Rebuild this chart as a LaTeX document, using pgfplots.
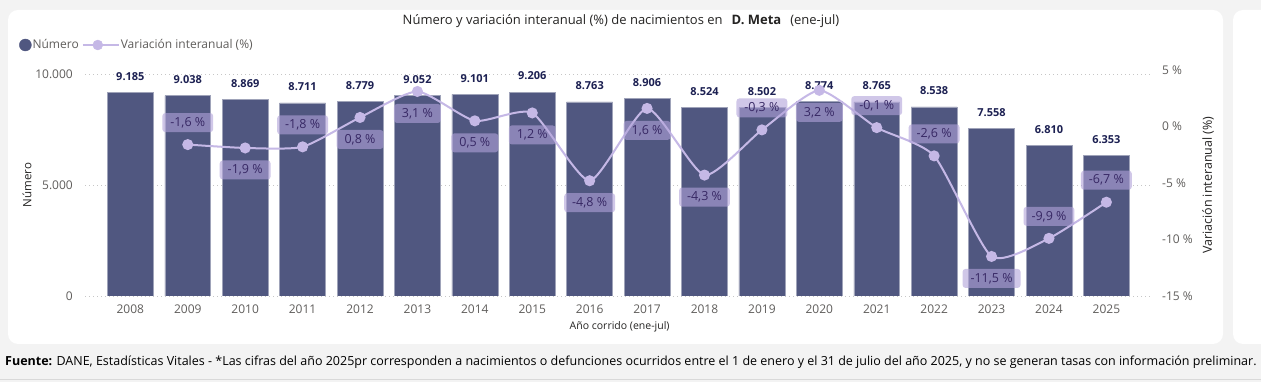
\documentclass[border=0pt]{standalone}
\usepackage{fontspec}
\setmainfont{Open Sans}
\usepackage{pgfplots}
\pgfplotsset{compat=1.18}
\definecolor{bgc}{RGB}{243,243,243}
\definecolor{barcol}{RGB}{80,87,128}
\definecolor{barlab}{RGB}{28,32,82}
\definecolor{linecol}{RGB}{197,184,230}
\definecolor{boxfill}{RGB}{178,163,218}
\definecolor{labtext}{RGB}{55,40,100}
\definecolor{tickgray}{RGB}{96,94,92}
\definecolor{titlec}{RGB}{37,36,35}
\begin{document}
\begin{tikzpicture}
\useasboundingbox (0pt,0pt) rectangle (1261pt,382pt);
\fill[bgc] (0pt,0pt) rectangle (1261pt,382pt);
\fill[white, rounded corners=10pt] (8pt,38pt) rectangle (1223pt,372pt);
\fill[white, rounded corners=10pt] (1233pt,38pt) rectangle (1290pt,372pt);
\draw[gray!30, line width=0.8pt] (0pt,3pt) -- (1261pt,3pt);

\begin{axis}[
  at={(85pt,86pt)}, anchor=south west, scale only axis,
  width=1065pt, height=226pt,
  xmin=-0.79, xmax=17.76, ymin=0, ymax=10200,
  scaled y ticks=false,
  axis line style={draw=none}, major tick length=0pt,
  xtick={0,...,17},
  xticklabels={2008,2009,2010,2011,2012,2013,2014,2015,2016,2017,2018,2019,2020,2021,2022,2023,2024,2025},
  xticklabel style={font=\fontsize{12}{14}\selectfont, text=tickgray, inner sep=0pt, anchor=center, yshift=-13pt},
  ytick={0,5000,10000}, yticklabels={0,5.000,10.000},
  yticklabel style={font=\fontsize{12}{14}\selectfont, text=tickgray, inner sep=0pt, anchor=east, xshift=-12pt},
  ymajorgrids, grid style={gray!45, line width=0.7pt, dash pattern=on 0.8pt off 3.2pt},
  ylabel={Número},
  ylabel style={font=\fontsize{11.5}{13}\selectfont, text=titlec, at={(axis description cs:-0.0545,0.491)}, anchor=center},
  xlabel={Año corrido (ene-jul)},
  xlabel style={font=\fontsize{10.5}{12}\selectfont, text=titlec, at={(axis description cs:0.502,-0.137)}, anchor=center},
  legend columns=2,
  legend style={at={(axis description cs:-0.062,1.1106)}, anchor=west, draw=none, fill=none, inner sep=0pt,
    font=\fontsize{12}{14}\selectfont, text=tickgray,
    nodes={inner sep=1pt},
    /tikz/every even column/.append style={column sep=2pt}},
  legend cell align=left,
]
\addplot[ybar, bar width=0.8, fill=barcol, draw=barcol!55!white, line width=0.5pt, forget plot,
  nodes near coords={\pgfmathprintnumber[1000 sep={.},precision=0,assume math mode=true]{\pgfplotspointmeta}},
  every node near coord/.style={font=\bfseries\fontsize{11}{13}\selectfont, text=barlab, anchor=center, yshift=16pt}]
table {
x y
0 9185
1 9038
2 8869
3 8711
4 8779
5 9052
6 9101
7 9206
8 8763
9 8906
10 8524
11 8502
12 8774
13 8765
14 8538
15 7558
16 6810
17 6353
};
\addlegendimage{legend image code/.code={\fill[barcol] (6pt,0pt) circle (6pt);}}
\addlegendentry{Número}
\addlegendimage{legend image code/.code={\draw[linecol, line width=2pt] (0pt,0pt) -- (36pt,0pt); \fill[linecol] (15pt,0pt) circle (5pt);}}
\addlegendentry{Variación interanual (\%)}
\end{axis}

\begin{axis}[
  at={(85pt,86pt)}, anchor=south west, scale only axis,
  width=1065pt, height=226pt,
  xmin=-0.79, xmax=17.76, ymin=-15, ymax=5,
  axis line style={draw=none}, major tick length=0pt,
  xtick=\empty,
  ytick={-15,-10,-5,0,5}, yticklabels={-15 \%,-10 \%,-5 \%,0 \%,5 \%},
  yticklabel pos=right,
  yticklabel style={font=\fontsize{12}{14}\selectfont, text=tickgray, inner sep=0pt, anchor=west, xshift=12pt},
  ylabel={Variación interanual (\%)},
  ylabel style={font=\fontsize{12.5}{14}\selectfont, text=titlec, at={(axis description cs:1.0545,0.49)}, anchor=center},
  every node near coord/.style={font=\fontsize{12.5}{14}\selectfont, text=labtext, fill=boxfill, fill opacity=0.6, text opacity=1,
     rounded corners=3pt, inner xsep=8pt, inner ysep=0pt, minimum height=19pt, anchor=center},
]
\addplot[linecol, line width=2pt, smooth, tension=0.35, mark=*, mark size=4.5pt, mark options={fill=linecol, draw=linecol}]
table {
x y
1 -1.6
2 -1.9
3 -1.8
4 0.8
5 3.1
6 0.5
7 1.2
8 -4.8
9 1.6
10 -4.3
11 -0.3
12 3.2
13 -0.1
14 -2.6
15 -11.5
16 -9.9
17 -6.7
};
% labels above the points
\addplot[draw=none, mark=none,
  nodes near coords={\pgfmathprintnumber[fixed,fixed zerofill,precision=1,use comma,assume math mode=true]{\pgfplotspointmeta}~\%},
  every node near coord/.append style={yshift=22pt}]
table {
x y
1 -1.6
3 -1.8
11 -0.3
13 -0.1
14 -2.6
16 -9.9
17 -6.7
};
% labels below the points
\addplot[draw=none, mark=none,
  nodes near coords={\pgfmathprintnumber[fixed,fixed zerofill,precision=1,use comma,assume math mode=true]{\pgfplotspointmeta}~\%},
  every node near coord/.append style={yshift=-22pt}]
table {
x y
2 -1.9
4 0.8
5 3.1
6 0.5
7 1.2
8 -4.8
9 1.6
10 -4.3
12 3.2
15 -11.5
};
\end{axis}

\node[font=\fontsize{13}{15}\selectfont, text=titlec] at (621pt,361pt)
  {Número y variación interanual (\%) de nacimientos en\hspace{9pt}\textbf{D. Meta}\hspace{9pt}(ene-jul)};
\node[font=\fontsize{12.5}{14}\selectfont, text=black, anchor=west, inner sep=0pt] at (5pt,20pt)
  {\textbf{Fuente:} DANE, Estadísticas Vitales - *Las cifras del año 2025pr corresponden a nacimientos o defunciones ocurridos entre el 1 de enero y el 31 de julio del año 2025, y no se generan tasas con información preliminar.};
\end{tikzpicture}
\end{document}
